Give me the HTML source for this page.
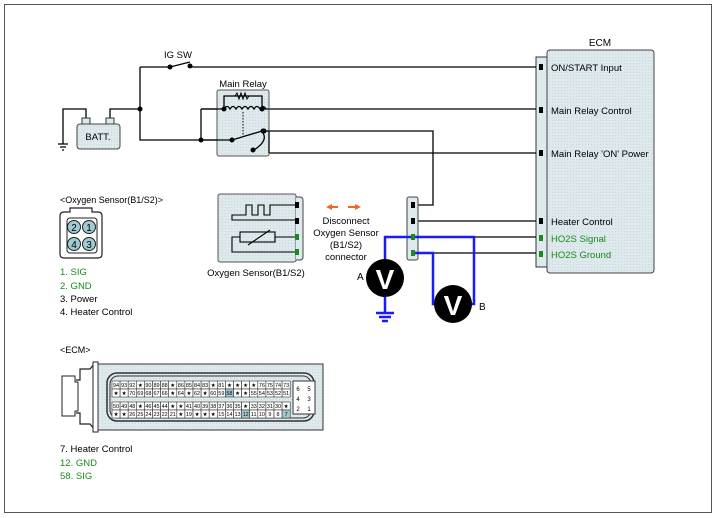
<!DOCTYPE html>
<html><head><meta charset="utf-8"><style>
body{margin:0;background:#fff}
svg{display:block;font-family:"Liberation Sans",sans-serif}
</style></head><body>
<svg width="717" height="518" viewBox="0 0 717 518" xmlns="http://www.w3.org/2000/svg">
<defs>
<pattern id="dot" width="3" height="3" patternUnits="userSpaceOnUse"><rect width="3" height="3" fill="#dde9ec"/><rect width="1" height="1" fill="#c9d7dc"/></pattern>
</defs>
<rect x="4.5" y="4.5" width="707" height="508" fill="none" stroke="#555" stroke-width="1"/>

<!-- ECM -->
<text x="600" y="46" font-size="10" text-anchor="middle">ECM</text>
<path d="M547 57 H536 V267 H547" fill="#dde9ec" stroke="#333"/>
<rect x="547" y="50" width="107" height="223" rx="3" fill="url(#dot)" stroke="#444"/>
<g font-size="9.5">
<text x="551" y="71">ON/START Input</text>
<text x="551" y="114">Main Relay Control</text>
<text x="551" y="157">Main Relay 'ON' Power</text>
<text x="551" y="225">Heater Control</text>
<text x="551" y="242" fill="#1a8a1a">HO2S  Signal</text>
<text x="551" y="258" fill="#1a8a1a">HO2S  Ground</text>
</g>
<g>
<rect x="539" y="64" width="4" height="6" fill="#000"/>
<rect x="539" y="107" width="4" height="6" fill="#000"/>
<rect x="539" y="150" width="4" height="6" fill="#000"/>
<rect x="539" y="218" width="4" height="6" fill="#000"/>
<rect x="539" y="235" width="4" height="6" fill="#1a8a1a"/>
<rect x="539" y="251" width="4" height="6" fill="#1a8a1a"/>
</g>

<!-- wires -->
<g stroke="#000" stroke-width="1.3" fill="none">
<path d="M140 67 H170 M190 67 H536"/>
<path d="M170 67 L190 62"/>
<path d="M140 67 V140 H232"/>
<path d="M110 118 V109 H140"/>
<path d="M86 118 V109 H63 V144"/>
<path d="M58 144 H68 M60 147 H66 M62 150 H64"/>
<path d="M201 109 V140"/>
<path d="M201 109 H224"/>
<path d="M262 109 H536"/>
<path d="M262 131 H433 V205 H416"/>
<path d="M268 131 V153 H536"/>
<path d="M416 221 H536 M416 237 H536 M416 253 H536"/>
</g>
<!-- relay box -->
<rect x="217" y="90" width="52" height="66" rx="2" fill="url(#dot)" stroke="#555"/>
<text x="243" y="87" font-size="9.5" text-anchor="middle">Main Relay</text>
<g stroke="#000" stroke-width="1.3" fill="none">
<path d="M224 109 V96 H262 V109"/>
<path d="M235 96 l2-3 l2 6 l2-6 l2 6 l2-6 l2 6 l2-3" stroke-width="1"/>
<path d="M224 109 q3-5 6 0 q3-5 6 0 q3-5 6 0 q3-5 6 0 q3-5 6 0 q3-5 6 0 q3-5 6 0"/>
<path d="M232 140 L262 131 H269 M201 140 H232 M201 109 H224 M262 109 H269"/>
<path d="M263 133 q5 8 -9 17"/>
<path d="M269 131 V153"/>
<path d="M243 112 V135" stroke-dasharray="1.5 1.5" stroke-width="1"/>
</g>
<g fill="#000">
<circle cx="140" cy="109" r="2.5"/><circle cx="201" cy="140" r="2.5"/>
<circle cx="170" cy="67" r="2.5"/><circle cx="190" cy="66" r="2.5"/>
<circle cx="224" cy="109" r="2.5"/><circle cx="262" cy="109" r="2.5"/>
<circle cx="232" cy="140" r="2.5"/><circle cx="263" cy="131" r="2.5"/><circle cx="264" cy="131" r="2.5"/>
<circle cx="253" cy="150" r="2.5"/>
</g>
<text x="178" y="58" font-size="9.5" text-anchor="middle">IG SW</text>

<!-- battery -->
<rect x="82" y="118" width="8" height="6" fill="#dde9ec" stroke="#333"/>
<rect x="106" y="118" width="8" height="6" fill="#dde9ec" stroke="#333"/>
<rect x="77" y="124" width="43" height="25" rx="3" fill="url(#dot)" stroke="#444"/>
<text x="98" y="140" font-size="9.5" text-anchor="middle">BATT.</text>

<!-- oxygen sensor -->
<rect x="218" y="194" width="78" height="68" rx="2" fill="url(#dot)" stroke="#555"/>
<path d="M296 197 h4 a3 3 0 0 1 3 3 v57 a3 3 0 0 1 -3 3 h-4" fill="#dde9ec" stroke="#444"/>
<g stroke="#000" fill="none" stroke-width="1.1">
<path d="M297 205 H270 V215 H264 V205 H258 V215 H252 V205 H246 V215 H232 V220 H297"/>
<path d="M297 237 H275 V242 M297 252 H232 V237 H240"/>
<rect x="240" y="232" width="35" height="10" fill="none"/>
<path d="M248 245 L270 230"/>
</g>
<g>
<rect x="295" y="202" width="4" height="6" fill="#000"/>
<rect x="295" y="218" width="4" height="6" fill="#000"/>
<rect x="295" y="234" width="4" height="6" fill="#1a8a1a"/>
<rect x="295" y="249" width="4" height="6" fill="#1a8a1a"/>
</g>
<text x="256" y="276" font-size="9.5" text-anchor="middle">Oxygen Sensor(B1/S2)</text>

<!-- disconnect -->
<g stroke="#f26522" stroke-width="2" fill="#f26522">
<path d="M331 207 H338 M348 207 H355"/>
<path d="M326 207 l6 -3 v6z M361 207 l-6 -3 v6z" stroke="none"/>
</g>
<g font-size="9.5" text-anchor="middle">
<text x="346" y="224">Disconnect</text>
<text x="346" y="236">Oxygen Sensor</text>
<text x="346" y="248">(B1/S2)</text>
<text x="346" y="260">connector</text>
</g>

<!-- connector strip -->
<rect x="407" y="197" width="11" height="63" rx="2" fill="#dde9ec" stroke="#444"/>
<rect x="411" y="202" width="4" height="6" fill="#000"/>
<rect x="411" y="218" width="4" height="6" fill="#000"/>

<!-- blue -->
<g stroke="#1a1aff" stroke-width="2.5" fill="none">
<path d="M413 237 H385 V300"/>
<path d="M413 237 H474 V304 H470"/>
<path d="M413 253 H433 V304 H437"/>
<path d="M385 300 V313 M376 313 H394 M379 317 H391 M382 321 H388"/>
</g>
<rect x="411" y="234" width="4" height="6" fill="#1a8a1a"/>
<rect x="411" y="250" width="4" height="6" fill="#1a8a1a"/>
<circle cx="385" cy="278" r="19" fill="#000"/>
<text x="385" y="289" font-size="28" font-weight="bold" fill="#fff" text-anchor="middle">V</text>
<circle cx="453" cy="304" r="19" fill="#000"/>
<text x="453" y="315" font-size="28" font-weight="bold" fill="#fff" text-anchor="middle">V</text>
<text x="357" y="280" font-size="10">A</text>
<text x="479" y="310" font-size="10">B</text>

<!-- O2 sensor connector icon -->
<text x="60" y="203" font-size="9">&lt;Oxygen Sensor(B1/S2)&gt;</text>
<path d="M64 212 h6 v-4 h22 v4 h6 q4 0 4 4 v38 q0 4 -4 4 h-34 q-4 0 -4 -4 v-38 q0 -4 4 -4z" fill="#fff" stroke="#222" stroke-width="1.2"/>
<rect x="67" y="218" width="30" height="35" rx="3" fill="none" stroke="#222"/>
<g fill="#9fcbd4" stroke="#222">
<circle cx="74" cy="227" r="6.5"/><circle cx="89" cy="227" r="6.5"/>
<circle cx="74" cy="244" r="6.5"/><circle cx="89" cy="244" r="6.5"/>
</g>
<g font-size="10" text-anchor="middle">
<text x="74" y="231">2</text><text x="89" y="231">1</text>
<text x="74" y="248">4</text><text x="89" y="248">3</text>
</g>
<g font-size="9.5">
<text x="60" y="275" fill="#1a8a1a">1. SIG</text>
<text x="60" y="289" fill="#1a8a1a">2. GND</text>
<text x="60" y="302">3. Power</text>
<text x="60" y="315">4. Heater Control</text>
</g>

<!-- ECM connector -->
<text x="60" y="353" font-size="9">&lt;ECM&gt;</text>
<path d="M76 380 H80 V369 H90 L95 363 H98 M76 413 H80 V424 H90 L95 430 H98" fill="none" stroke="#222" stroke-width="1.2"/>
<path d="M62 376 H75 V382 H78 V411 H75 V416 H62Z" fill="#fff" stroke="#222"/>
<rect x="93" y="362" width="5" height="70" fill="#fff" stroke="#222"/>
<rect x="98" y="364" width="225" height="66" fill="url(#dot)" stroke="#333"/>
<rect x="107" y="373" width="207" height="48" rx="10" fill="none" stroke="#333" stroke-width="1.5"/>
<rect x="110" y="376" width="201" height="42" rx="8" fill="none" stroke="#333"/>
<rect x="293" y="381" width="22" height="33" fill="#fff" stroke="#333"/>
<g font-size="6" text-anchor="middle">
<text x="298" y="391">6</text><text x="309" y="391">5</text>
<text x="298" y="401">4</text><text x="309" y="401">3</text>
<text x="298" y="411">2</text><text x="309" y="411">1</text>
</g>
<g font-size="9.5">
<text x="60" y="452">7. Heater Control</text>
<text x="60" y="466" fill="#1a8a1a">12. GND</text>
<text x="60" y="479" fill="#1a8a1a">58. SIG</text>
</g>
<g id="cells" font-size="5.5" text-anchor="middle"></g>
</svg>
<script>
var rows=[
["94","93","92","★","90","89","88","★","86","85","84","83","★","81","★","★","★","★","76","75","74","73"],
["★","★","70","69","68","67","66","★","64","★","62","★","60","59","58","★","★","55","54","53","52","51"],
["50","49","48","★","46","45","44","★","★","41","40","39","38","37","36","35","★","33","32","31","30","★"],
["★","★","26","25","24","23","22","21","★","19","★","★","★","15","14","13","12","11","10","9","8","7"]];
var ys=[381,389,402,410],g=document.getElementById('cells'),s='';
var hl={"58":1,"12":1,"7":1};
for(var r=0;r<4;r++)for(var c=0;c<22;c++){var x=112+c*8.1,t=rows[r][c];
s+='<rect x="'+x+'" y="'+ys[r]+'" width="8.1" height="8" fill="'+(hl[t]?'#9fcbd4':'#fff')+'" stroke="#333" stroke-width="0.6"/>';
s+='<text x="'+(x+4.05)+'" y="'+(ys[r]+6)+'">'+t+'</text>';}
g.innerHTML=s;
</script>
</body></html>
